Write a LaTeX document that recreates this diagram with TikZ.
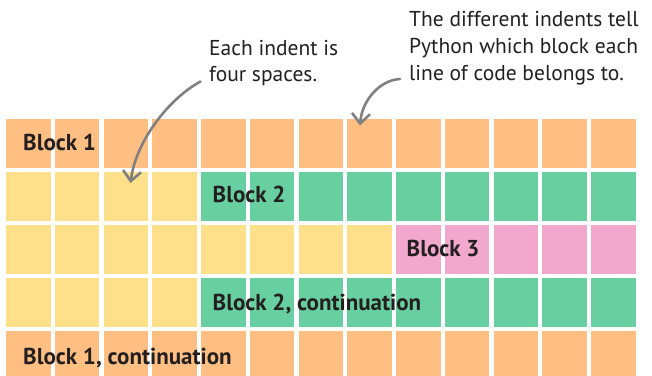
\documentclass[tikz,border=0pt]{standalone}
\usepackage{fontspec}
\setmainfont{PT Sans}
\usepackage{tikz}
\usetikzlibrary{arrows.meta}
\definecolor{blockorange}{RGB}{255, 191, 130}
\definecolor{blockyellow}{RGB}{255, 224, 138}
\definecolor{blockgreen}{RGB}{104, 207, 160}
\definecolor{blockpink}{RGB}{242, 167, 204}
\definecolor{notegray}{RGB}{128, 128, 128}
\definecolor{inkdark}{RGB}{35, 31, 32}

\begin{document}
\begin{tikzpicture}[x=1pt, y=-1pt, >={Straight Barb[length=10pt, width=18pt]},
    cell/.style={minimum width=44.5pt, minimum height=48.5pt, inner sep=0pt},
    label/.style={anchor=base west, inner sep=0pt, text=inkdark,
      font=\fontsize{23}{27}\selectfont\bfseries},
    note/.style={anchor=base west, inner sep=0pt, align=left, text=inkdark,
      font=\fontsize{21.5}{26.7}\selectfont},
    pointer/.style={->, notegray, line width=2.6pt, line cap=round}]
  \useasboundingbox (0,0) rectangle (652,375);
  \clip (0,0) rectangle (652,375);

  % Grid of indents
  \foreach \r/\nyel/\rowcol in {1/0/blockorange, 2/4/blockgreen, 3/8/blockpink,
      4/4/blockgreen, 5/0/blockorange}
    \foreach \c in {1,...,13} {
      \ifnum\c>\nyel \def\fillc{\rowcol}\else\def\fillc{blockyellow}\fi
      \node[cell, fill=\fillc] (cell-\r-\c)
        at ({28.25+(\c-1)*48.75}, {143.25+(\r-1)*53.1}) {};
    }

  \node[label] (blk1)  at (23, 150)    {Block 1};
  \node[label] (blk2)  at (212.5, 202.5) {Block 2};
  \node[label] (blk3)  at (406.5, 256)   {Block 3};
  \node[label] (blk2c) at (212.5, 310.5) {Block 2, continuation};
  \node[label] (blk1c) at (23, 364.5)    {Block 1, continuation};

  % Notes (base = last line)
  \node[note] (note1) at (209, 81.7) {Each indent is\\four spaces.};
  \node[note] (note2) at (409, 80)   {The different indents tell\\Python which block each\\line of code belongs to.};

  \coordinate (from1) at (200.5, 81.5);
  \coordinate (tip1)  at (130.5, 183);
  \coordinate (from2) at (400, 79);
  \coordinate (tip2)  at (360, 125.5);
  \draw[pointer] (from1) .. controls (170, 98) and (136, 140) .. (tip1);
  \draw[pointer] (from2) .. controls (380, 80) and (362, 100) .. (tip2);
\end{tikzpicture}
\end{document}
